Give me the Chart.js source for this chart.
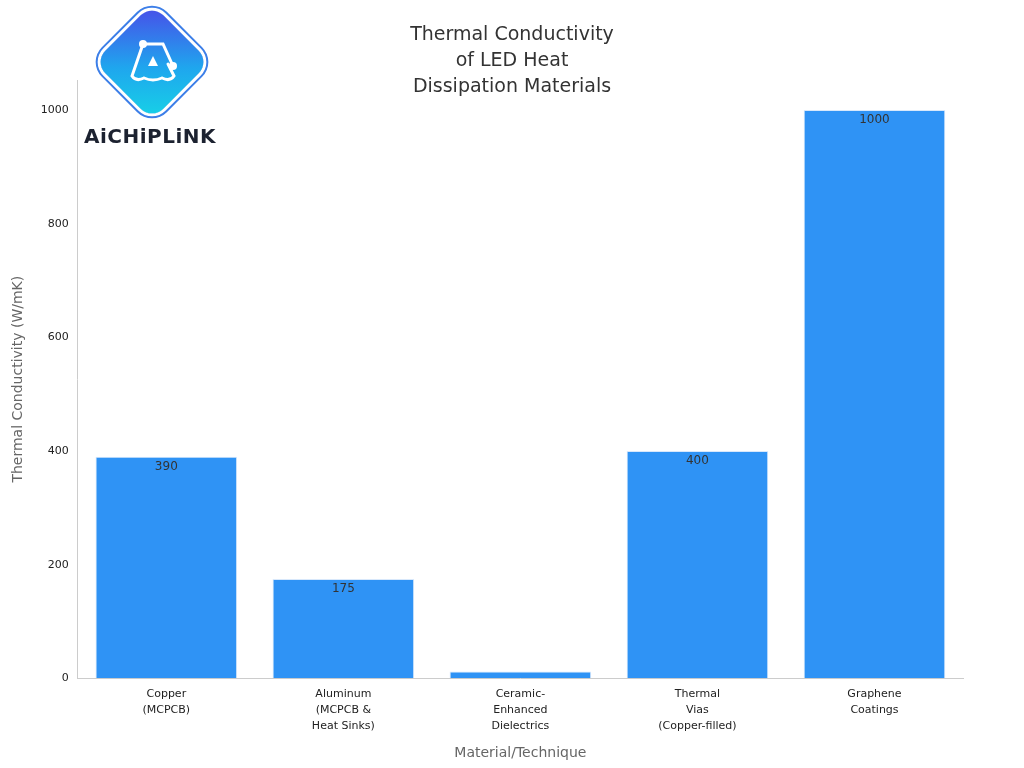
<!DOCTYPE html>
<html>
<head>
<meta charset="utf-8">
<script src="https://cdn.jsdelivr.net/npm/chart.js@4"></script>
<style>
  body { margin: 0; background: #fff; font-family: "DejaVu Sans", sans-serif; }
  #wrap { position: relative; width: 1024px; height: 768px; }
  #title { position: absolute; left: 0; width: 1024px; top: 20px; text-align: center;
           font-size: 19px; line-height: 26px; color: #333; }
  #diamond { position: absolute; left: 111px; top: 21px; width: 82px; height: 82px; border-radius: 16px;
             transform: rotate(45deg); background: linear-gradient(135deg, #4a4ae8, #1fa6ee 55%, #16d4e6);
             box-shadow: 0 0 0 3px #fff, 0 0 0 5px #3d7fe8; }
  #brand { position: absolute; left: 84px; top: 124px; font-size: 20px; font-weight: bold;
           color: #1c2230; letter-spacing: 0.5px; }
</style>
</head>
<body>
<div id="wrap">
  <canvas id="chart" width="1024" height="768"></canvas>
  <div id="diamond"></div>
  <svg style="position:absolute;left:118px;top:30px" width="70" height="70" viewBox="0 0 70 70">
    <path d="M25 14 L14 46 Q18 52 26 48 Q35 52 44 48 Q52 52 56 46 L50 34" fill="none" stroke="#fff" stroke-width="3" stroke-linecap="round"/>
    <path d="M25 14 L45 14 L55 36" fill="none" stroke="#fff" stroke-width="3"/>
    <circle cx="25" cy="14" r="4" fill="#fff"/>
    <circle cx="55" cy="36" r="4" fill="#fff"/>
    <path d="M35 26 L40 36 L30 36 Z" fill="#fff"/>
  </svg>
  <div id="brand">AiCHiPLiNK</div>
  <div id="title">Thermal Conductivity<br>of LED Heat<br>Dissipation Materials</div>
</div>
<script>
const categories = [
  ['Copper', '(MCPCB)'],
  ['Aluminum', '(MCPCB &', 'Heat Sinks)'],
  ['Ceramic-', 'Enhanced', 'Dielectrics'],
  ['Thermal', 'Vias', '(Copper-filled)'],
  ['Graphene', 'Coatings']
];
const conductivity = [390, 175, 12, 400, 1000];
const valueLabels = ['390', '175', '', '400', '1000'];

// etiquetas de valor dentro do topo das barras
const barLabels = {
  id: 'barLabels',
  afterDatasetsDraw(chart) {
    const ctx = chart.ctx;
    const meta = chart.getDatasetMeta(0);
    ctx.save();
    ctx.font = '12px "DejaVu Sans"';
    ctx.fillStyle = '#333';
    ctx.textAlign = 'center';
    ctx.textBaseline = 'top';
    meta.data.forEach((bar, i) => {
      if (valueLabels[i]) ctx.fillText(valueLabels[i], bar.x, bar.y + 4);
    });
    ctx.restore();
  }
};

Chart.defaults.font.family = '"DejaVu Sans", sans-serif';

new Chart(document.getElementById('chart').getContext('2d'), {
  type: 'bar',
  data: {
    labels: categories,
    datasets: [{
      data: conductivity,
      backgroundColor: '#2f93f5',
      borderColor: '#d8e8fb',
      borderWidth: 1,
      categoryPercentage: 0.8,
      barPercentage: 1
    }]
  },
  options: {
    responsive: false,
    animation: false,
    layout: { padding: { top: 80, right: 61, left: 6, bottom: 2 } },
    plugins: { legend: { display: false }, tooltip: { enabled: false } },
    scales: {
      x: {
        grid: { display: false, drawTicks: true, tickLength: 5 },
        border: { color: '#ccc' },
        ticks: { color: '#222', font: { size: 11, lineHeight: 1.45 }, maxRotation: 0 },
        title: { display: true, text: 'Material/Technique', color: '#666', font: { size: 14 }, padding: { top: 8 } }
      },
      y: {
        min: 0, max: 1053,
        grid: { display: false, tickLength: 5 },
        border: { color: '#ccc' },
        ticks: { stepSize: 200, color: '#222', font: { size: 11 }, padding: 4,
                 callback: v => (v % 200 === 0 ? v : '') },
        title: { display: true, text: 'Thermal Conductivity (W/mK)', color: '#666', font: { size: 14 }, padding: { bottom: 10 } }
      }
    }
  },
  plugins: [barLabels]
});
</script>
</body>
</html>
